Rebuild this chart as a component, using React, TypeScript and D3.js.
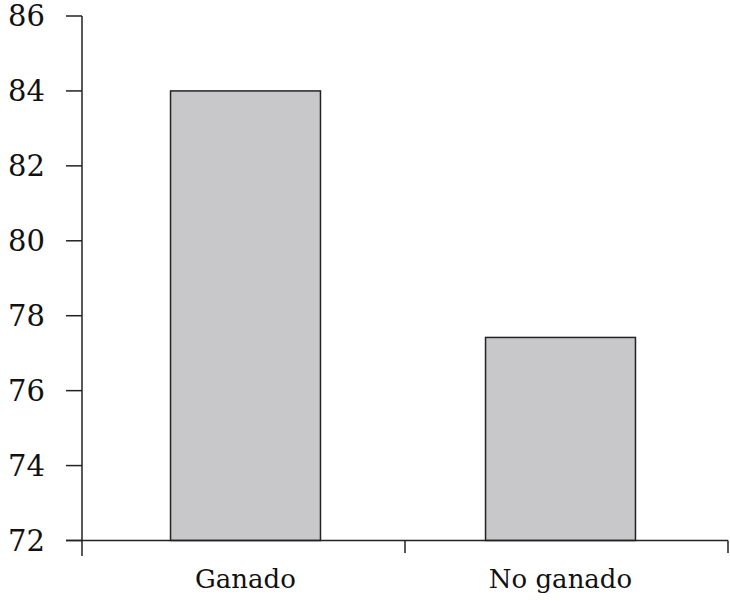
import React from "react";
import * as d3 from "d3";

const categories = ["Ganado", "No ganado"];
const values = [84, 77.42];
const yTicks = [72, 74, 76, 78, 80, 82, 84, 86];

export default function App() {
  const W = 730;
  const H = 601;
  const x0 = 82;
  const x1 = 728;
  const yTop = 16;
  const yBot = 540.5;
  const y = d3.scaleLinear().domain([72, 86]).range([yBot, yTop]);
  const x = d3.scaleBand<string>().domain(categories).range([88, 718]).paddingInner(0.524).paddingOuter(0.262);
  const stroke = "#222";
  const font = "'DejaVu Serif', serif";
  return (
    <svg width={W} height={H} style={{ position: "absolute", left: 0, top: 0, background: "#fff" }}>
      {categories.map((c, i) => (
        <rect
          key={c}
          x={x(c)!}
          y={y(values[i])}
          width={x.bandwidth()}
          height={yBot - y(values[i])}
          fill="#c8c8ca"
          stroke={stroke}
          strokeWidth={1.5}
        />
      ))}
      {/* y axis */}
      <line x1={x0} x2={x0} y1={yTop} y2={556} stroke={stroke} strokeWidth={1.5} />
      {yTicks.map((t) => (
        <g key={t}>
          <line x1={66} x2={x0} y1={y(t)} y2={y(t)} stroke={stroke} strokeWidth={1.5} />
          <text x={45} y={y(t)} dy="0.35em" textAnchor="end" fontFamily={font} fontSize={29} fill="#111">
            {t}
          </text>
        </g>
      ))}
      {/* x axis */}
      <line x1={66} x2={x1} y1={yBot} y2={yBot} stroke={stroke} strokeWidth={1.5} />
      {[x0 + (x1 - x0) / 2, x1].map((px, i) => (
        <line key={i} x1={px} x2={px} y1={yBot} y2={553} stroke={stroke} strokeWidth={1.5} />
      ))}
      {categories.map((c) => (
        <text
          key={c}
          x={x(c)! + x.bandwidth() / 2}
          y={588}
          textAnchor="middle"
          fontFamily={font}
          fontSize={26}
          fill="#111"
        >
          {c}
        </text>
      ))}
    </svg>
  );
}
